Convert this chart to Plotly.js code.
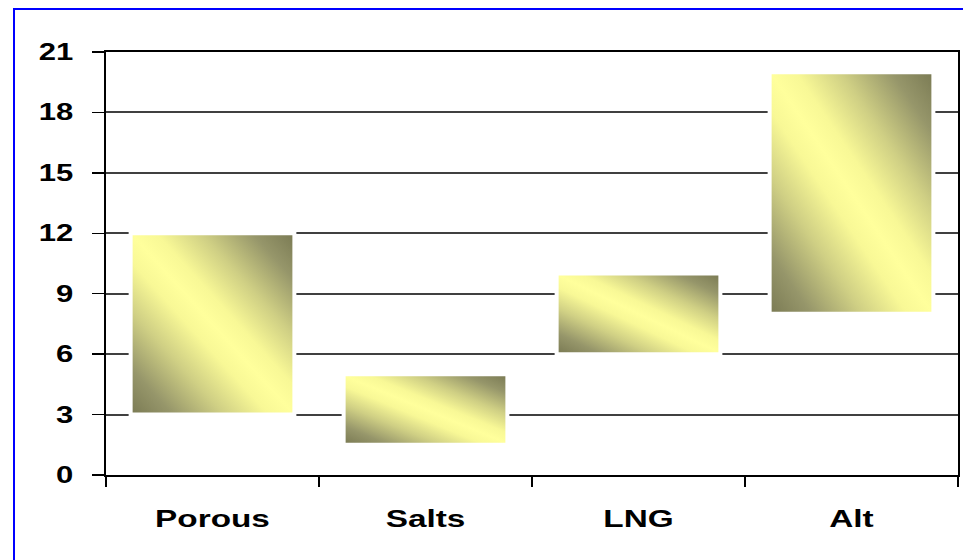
<!DOCTYPE html>
<html>
<head>
<meta charset="utf-8">
<script src="https://cdn.plot.ly/plotly-3.0.1.min.js"></script>
<style>
  html, body { margin: 0; padding: 0; background: #fff; }
  #wrap { position: relative; width: 963px; height: 560px; overflow: hidden; }
  #chart { width: 963px; height: 560px; }
  #frame { position: absolute; left: 13px; top: 8px; width: 1000px; height: 600px;
           border: 2px solid #0000FF; pointer-events: none; box-sizing: border-box; }
</style>
</head>
<body>
<div id="wrap">
  <div id="chart"></div>
  <div id="frame"></div>
</div>
<script>
// ---- data ----
const categories = ["Porous", "Salts", "LNG", "Alt"];
const lowValues  = [3.1, 1.6, 6.1, 8.1];
const highValues = [11.9, 4.9, 9.9, 19.9];
const yTickValues = [0, 3, 6, 9, 12, 15, 18, 21];

const spans = highValues.map((h, i) => h - lowValues[i]);

const font = { family: "Liberation Sans, Arial, sans-serif", size: 23, color: "#000", weight: "bold" };

// white halo behind each floating bar
const halo = {
  type: "bar", x: categories, y: spans, base: lowValues,
  width: 0.75,
  marker: { color: "rgba(255,255,255,0)", line: { color: "#ffffff", width: 8 } },
  hoverinfo: "skip", showlegend: false
};
// gradient bars
const bars = {
  type: "bar", x: categories, y: spans, base: lowValues,
  width: 0.75,
  marker: { color: "#E6E68C", line: { width: 0 } },
  showlegend: false
};

const layout = {
  width: 963, height: 560,
  margin: { l: 106, r: 5, t: 52, b: 85 },
  paper_bgcolor: "#ffffff", plot_bgcolor: "#ffffff",
  barmode: "overlay",
  font: font,
  showlegend: false,
  xaxis: {
    type: "category",
    tickson: "boundaries",
    ticks: "outside", ticklen: 10, tickwidth: 1.5, tickcolor: "#000",
    showline: true, linecolor: "#000", linewidth: 2, mirror: true,
    showgrid: false, zeroline: false,
    tickfont: font,
    ticklabelstandoff: 22
  },
  yaxis: {
    range: [0, 21],
    tickmode: "array", tickvals: yTickValues, ticktext: yTickValues.map(String),
    ticks: "outside", ticklen: 12, tickwidth: 1.5, tickcolor: "#000",
    showline: true, linecolor: "#000", linewidth: 2, mirror: true,
    showgrid: true, gridcolor: "#404040", gridwidth: 2,
    zeroline: false,
    tickfont: font,
    ticklabelstandoff: 14
  }
};

function addGradient(gd) {
  const svg = gd.querySelector(".main-svg");
  const ns = "http://www.w3.org/2000/svg";
  let defs = svg.querySelector("defs");
  if (!defs) { defs = document.createElementNS(ns, "defs"); svg.insertBefore(defs, svg.firstChild); }
  if (!svg.querySelector("#barGrad")) {
    const g = document.createElementNS(ns, "linearGradient");
    g.setAttribute("id", "barGrad");
    g.setAttribute("x1", "1"); g.setAttribute("y1", "0");
    g.setAttribute("x2", "0"); g.setAttribute("y2", "1");
    [["0", "#7C7C55"], ["0.12", "#96966A"], ["0.28", "#CFCF84"], ["0.42", "#F8F896"],
     ["0.5", "#FFFF9C"], ["0.58", "#F8F896"], ["0.72", "#CFCF84"], ["0.88", "#96966A"], ["1", "#7C7C55"]]
      .forEach(([o, c]) => {
        const s = document.createElementNS(ns, "stop");
        s.setAttribute("offset", o); s.setAttribute("stop-color", c);
        g.appendChild(s);
      });
    defs.appendChild(g);
  }
  const traces = gd.querySelectorAll(".barlayer .trace");
  const top = traces[traces.length - 1];
  if (top) top.querySelectorAll("path").forEach(p => { p.style.fill = "url(#barGrad)"; });
}

function stretchText(sel, s, mode) {
  document.querySelectorAll(sel).forEach(t => {
    let orig = t.getAttribute("data-orig-tf");
    if (orig === null) { orig = t.getAttribute("transform") || ""; t.setAttribute("data-orig-tf", orig); }
    t.setAttribute("transform", orig);
    const bb = t.getBBox();
    const cx = mode === "end" ? bb.x + bb.width : bb.x + bb.width / 2;
    t.setAttribute("transform", orig + " translate(" + cx + ",0) scale(" + s + ",1) translate(" + (-cx) + ",0)");
  });
}

const gd = document.getElementById("chart");
Plotly.newPlot(gd, [halo, bars], layout, { displayModeBar: false, staticPlot: true }).then(() => {
  addGradient(gd);
  stretchText(".xtick text", 1.45, "middle");
  stretchText(".ytick text", 1.35, "end");
});
</script>
</body>
</html>
